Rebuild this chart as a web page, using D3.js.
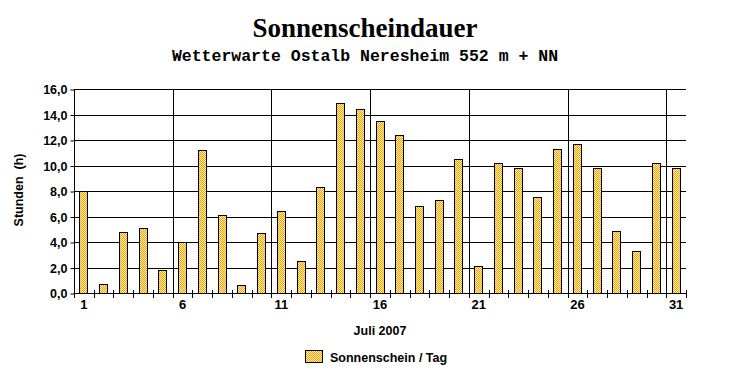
<!DOCTYPE html>
<html><head><meta charset="utf-8">
<script src="https://cdn.jsdelivr.net/npm/d3@7"></script>
<style>
html,body{margin:0;padding:0;background:#fff;}
svg{display:block;}
text{font-family:"Liberation Sans",Arial,sans-serif;font-weight:bold;fill:#000;}
</style></head>
<body>
<script>
const days = d3.range(1, 32);
const sunshine = [8.0,0.7,4.8,5.1,1.8,4.0,11.2,6.1,0.6,4.7,6.4,2.5,8.3,14.9,14.4,13.5,
  12.4,6.8,7.3,10.5,2.1,10.2,9.8,7.5,11.3,11.7,9.8,4.9,3.3,10.2,9.8];
const yTicks = [0,2,4,6,8,10,12,14,16];
const xLabelDays = [1,6,11,16,21,26,31];
const title = "Sonnenscheindauer";
const subtitle = "Wetterwarte Ostalb Neresheim 552 m + NN";
const xTitle = "Juli 2007";
const yTitle = "Stunden  (h)";
const seriesName = "Sonnenschein / Tag";

const W = 732, H = 380;
const svg = d3.select("body").append("svg").attr("width", W).attr("height", H);

const defs = svg.append("defs");
const pat = defs.append("pattern").attr("id","chk").attr("patternUnits","userSpaceOnUse")
  .attr("width",2).attr("height",2);
pat.append("rect").attr("width",2).attr("height",2).attr("fill","#FFF4B8");
pat.append("rect").attr("x",0).attr("y",0).attr("width",1).attr("height",1).attr("fill","#FF9C00");
pat.append("rect").attr("x",1).attr("y",1).attr("width",1).attr("height",1).attr("fill","#FF9C00");

const x = d3.scaleBand().domain(days).range([74, 686]).padding(0);
const y = d3.scaleLinear().domain([0, 16]).range([293, 89]);

// horizontal gridlines
svg.append("g").selectAll("line").data(yTicks.filter(d => d > 0)).join("line")
  .attr("x1", 74).attr("x2", 686)
  .attr("y1", d => Math.round(y(d)) + 0.5).attr("y2", d => Math.round(y(d)) + 0.5)
  .attr("stroke", "#000").attr("stroke-width", 1);

// vertical gridlines
svg.append("g").selectAll("line").data(xLabelDays.filter(d => d > 1)).join("line")
  .attr("x1", d => Math.round(x(d)) + 0.5).attr("x2", d => Math.round(x(d)) + 0.5)
  .attr("y1", y(16)).attr("y2", y(0))
  .attr("stroke", "#000").attr("stroke-width", 1);

// bars
const bw = 9;
svg.append("g").selectAll("rect").data(days).join("rect")
  .attr("x", (d) => Math.round(x(d) + x.bandwidth()/2 - bw/2) + 0.5)
  .attr("y", (d,i) => Math.round(y(sunshine[i])) + 0.5)
  .attr("width", bw - 1)
  .attr("height", (d,i) => Math.round(y(0)) - Math.round(y(sunshine[i])))
  .attr("fill", "url(#chk)").attr("stroke", "#000").attr("stroke-width", 1);

// y axis
const yAxis = d3.axisLeft(y).tickValues(yTicks).tickSize(4).tickPadding(3)
  .tickFormat(d => d3.format(".1f")(d).replace(".", ","));
const gy = svg.append("g").attr("transform", "translate(74.5,0.5)").call(yAxis);
gy.select(".domain").attr("d", `M0,${y(16)}V${y(0)}`).attr("stroke","#000");
gy.selectAll(".tick line").attr("stroke","#000");
gy.selectAll("text").attr("font-size", 12.5).attr("font-family", '"Liberation Sans",Arial,sans-serif')
  .attr("font-weight","bold").attr("fill","#000").attr("dy","0.35em");

// x axis baseline
svg.append("line").attr("x1", 74).attr("x2", 687).attr("y1", 293.5).attr("y2", 293.5)
  .attr("stroke","#000");
// x ticks at every band boundary
const bounds = days.map(d => x(d)).concat([x(31) + x.bandwidth()]);
svg.append("g").selectAll("line").data(bounds).join("line")
  .attr("x1", d => Math.round(d) + 0.5).attr("x2", d => Math.round(d) + 0.5)
  .attr("y1", 290).attr("y2", 298).attr("stroke","#000");
// x labels
svg.append("g").selectAll("text").data(xLabelDays).join("text")
  .attr("x", d => x(d) + x.bandwidth()/2).attr("y", 309)
  .attr("text-anchor","middle").attr("font-size", 13).text(d => d);

// titles
svg.append("text").attr("x", 365).attr("y", 37).attr("text-anchor","middle")
  .style("font-family",'"Liberation Serif","Times New Roman",serif').attr("font-size", 27).text(title);
svg.append("text").attr("x", 365).attr("y", 61).attr("text-anchor","middle")
  .style("font-family",'"Liberation Mono","Courier New",monospace').attr("font-size", 16.5).text(subtitle);

svg.append("text").attr("x", 380).attr("y", 335).attr("text-anchor","middle").attr("font-size", 12.5).text(xTitle);
svg.append("text").attr("transform","translate(23,190) rotate(-90)").attr("text-anchor","middle")
  .attr("font-size", 12.5).attr("xml:space","preserve").style("white-space","pre").text(yTitle);

// legend
svg.append("rect").attr("x", 305.5).attr("y", 350.5).attr("width", 17).attr("height", 12)
  .attr("fill","url(#chk)").attr("stroke","#000");
svg.append("text").attr("x", 330).attr("y", 362).attr("font-size", 12.5).text(seriesName);
</script>
</body></html>
